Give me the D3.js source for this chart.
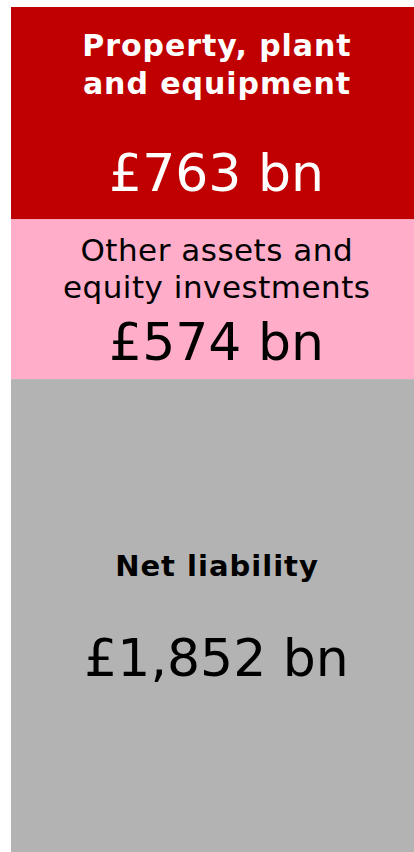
<!DOCTYPE html>
<html>
<head>
<meta charset="utf-8">
<script src="https://cdn.jsdelivr.net/npm/d3@7/dist/d3.min.js"></script>
<style>
  html, body { margin: 0; padding: 0; background: #ffffff; }
  svg { display: block; }
  text { font-family: Verdana, "DejaVu Sans", sans-serif; }
</style>
</head>
<body>
<svg id="chart" width="414" height="852"></svg>
<script>
// Data
const categories = ["Property, plant and equipment", "Other assets and equity investments", "Net liability"];
const labelLines = [["Property, plant", "and equipment"], ["Other assets and", "equity investments"], ["Net liability"]];
const values = [763, 574, 1852];
const valueLabels = ["£763 bn", "£574 bn", "£1,852 bn"];

// Styles
const colors = ["#c00000", "#ffadc9", "#b3b3b3"];
const textColors = ["#ffffff", "#000000", "#000000"];
const nameBold = [true, false, true];
const nameSize = [30, 31, 29];
const nameSpacing = [0.95, 0.5, 1.0];
const valueSize = 52;
// offsets relative to visible segment middle
const nameOffsets = [[-57, -19], [-38, -1], [-40]];
const valueOffsets = [78, 61, 60];

const W = 414, H = 852;
const svg = d3.select("#chart");

const x = d3.scaleBand().domain(["Balance"]).range([11, 423]).padding(0);
const y = d3.scaleLinear().domain([0, 3036]).range([7, 852]);

let cum = 0;
const segs = values.map((v, i) => {
  const s = { i, start: cum, end: cum + v, value: v };
  cum += v;
  return s;
});

const g = svg.append("g");
g.selectAll("rect").data(segs).join("rect")
  .attr("x", x("Balance"))
  .attr("width", x.bandwidth())
  .attr("y", d => y(d.start))
  .attr("height", d => y(d.end) - y(d.start))
  .attr("fill", d => colors[d.i]);

const cx = x("Balance") + x.bandwidth() / 2 - 0.5;

segs.forEach(d => {
  const top = y(d.start);
  const bottom = Math.min(y(d.end), H);
  const mid = (top + bottom) / 2;
  labelLines[d.i].forEach((line, k) => {
    g.append("text")
      .attr("x", cx + nameSpacing[d.i] / 2)
      .attr("y", mid + nameOffsets[d.i][k])
      .attr("text-anchor", "middle")
      .attr("fill", textColors[d.i])
      .attr("font-size", nameSize[d.i])
      .attr("letter-spacing", nameSpacing[d.i])
      .attr("font-weight", nameBold[d.i] ? "bold" : "normal")
      .text(line);
  });
  g.append("text")
    .attr("x", cx)
    .attr("y", mid + valueOffsets[d.i])
    .attr("text-anchor", "middle")
    .attr("fill", textColors[d.i])
    .attr("font-size", valueSize)
    .text(valueLabels[d.i]);
});
</script>
</body>
</html>
